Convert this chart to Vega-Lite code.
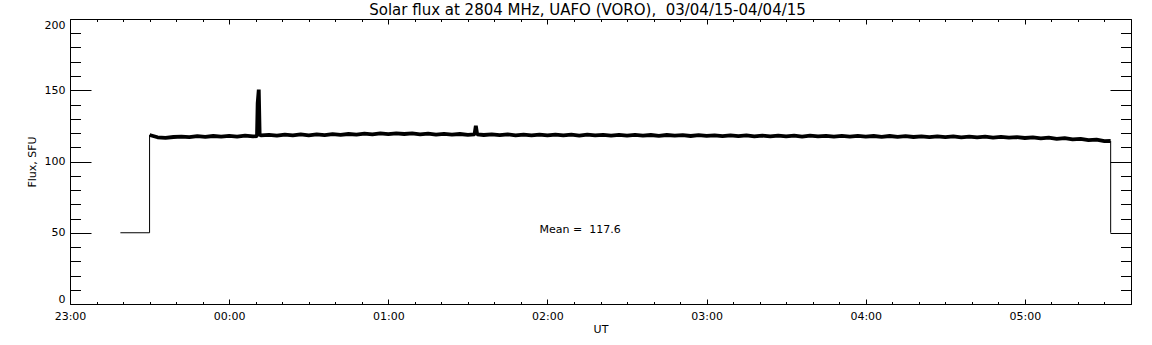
{
  "$schema": "https://vega.github.io/schema/vega-lite/v6.json",
  "width": 1061,
  "height": 285,
  "autosize": "none",
  "padding": {"left": 70, "top": 19, "right": 21, "bottom": 41},
  "background": "white",
  "config": {
    "view": {"stroke": null},
    "font": "DejaVu Sans",
    "axis": {
      "domainColor": "black",
      "domainWidth": 1,
      "gridColor": "black",
      "gridOpacity": 1,
      "gridWidth": 1,
      "labelColor": "black",
      "titleColor": "black",
      "labelFont": "DejaVu Sans",
      "titleFont": "DejaVu Sans",
      "labelFontSize": 11,
      "titleFontSize": 11,
      "titleFontWeight": "normal",
      "labelOverlap": false
    }
  },
  "title": {
    "text": "Solar flux at 2804 MHz, UAFO (VORO),\u00a0 03/04/15-04/04/15",
    "font": "DejaVu Sans",
    "fontSize": 15,
    "fontWeight": "normal",
    "color": "black",
    "offset": 1,
    "dx": -13
  },
  "datasets": {
    "flux": [
      {"t": "2015-04-03T23:30:00Z", "f": 118.6},
      {"t": "2015-04-03T23:33:00Z", "f": 117.0},
      {"t": "2015-04-03T23:36:00Z", "f": 116.6},
      {"t": "2015-04-03T23:39:00Z", "f": 117.2},
      {"t": "2015-04-03T23:42:00Z", "f": 117.5},
      {"t": "2015-04-03T23:45:00Z", "f": 117.1},
      {"t": "2015-04-03T23:48:00Z", "f": 117.8},
      {"t": "2015-04-03T23:51:00Z", "f": 117.3},
      {"t": "2015-04-03T23:54:00Z", "f": 117.9},
      {"t": "2015-04-03T23:57:00Z", "f": 117.4},
      {"t": "2015-04-04T00:00:00Z", "f": 118.0},
      {"t": "2015-04-04T00:03:00Z", "f": 117.5},
      {"t": "2015-04-04T00:06:00Z", "f": 118.1},
      {"t": "2015-04-04T00:09:00Z", "f": 117.6},
      {"t": "2015-04-04T00:10:30Z", "f": 117.9},
      {"t": "2015-04-04T00:10:45Z", "f": 141.0},
      {"t": "2015-04-04T00:11:10Z", "f": 150.5},
      {"t": "2015-04-04T00:11:30Z", "f": 119.0},
      {"t": "2015-04-04T00:12:00Z", "f": 118.3},
      {"t": "2015-04-04T00:15:00Z", "f": 118.7},
      {"t": "2015-04-04T00:18:00Z", "f": 118.1},
      {"t": "2015-04-04T00:21:00Z", "f": 118.8},
      {"t": "2015-04-04T00:24:00Z", "f": 118.3},
      {"t": "2015-04-04T00:27:00Z", "f": 119.0},
      {"t": "2015-04-04T00:30:00Z", "f": 118.4},
      {"t": "2015-04-04T00:33:00Z", "f": 119.0},
      {"t": "2015-04-04T00:36:00Z", "f": 118.5},
      {"t": "2015-04-04T00:39:00Z", "f": 119.2},
      {"t": "2015-04-04T00:42:00Z", "f": 118.7},
      {"t": "2015-04-04T00:45:00Z", "f": 119.3},
      {"t": "2015-04-04T00:48:00Z", "f": 118.8},
      {"t": "2015-04-04T00:51:00Z", "f": 119.5},
      {"t": "2015-04-04T00:54:00Z", "f": 119.0},
      {"t": "2015-04-04T00:57:00Z", "f": 119.7},
      {"t": "2015-04-04T01:00:00Z", "f": 119.2},
      {"t": "2015-04-04T01:03:00Z", "f": 119.8},
      {"t": "2015-04-04T01:06:00Z", "f": 119.3},
      {"t": "2015-04-04T01:09:00Z", "f": 119.7},
      {"t": "2015-04-04T01:12:00Z", "f": 119.1},
      {"t": "2015-04-04T01:15:00Z", "f": 119.6},
      {"t": "2015-04-04T01:18:00Z", "f": 118.9},
      {"t": "2015-04-04T01:21:00Z", "f": 119.4},
      {"t": "2015-04-04T01:24:00Z", "f": 118.8},
      {"t": "2015-04-04T01:27:00Z", "f": 119.3},
      {"t": "2015-04-04T01:30:00Z", "f": 118.7},
      {"t": "2015-04-04T01:32:30Z", "f": 119.0},
      {"t": "2015-04-04T01:33:00Z", "f": 125.0},
      {"t": "2015-04-04T01:33:30Z", "f": 119.1},
      {"t": "2015-04-04T01:36:00Z", "f": 118.6},
      {"t": "2015-04-04T01:39:00Z", "f": 119.1},
      {"t": "2015-04-04T01:42:00Z", "f": 118.5},
      {"t": "2015-04-04T01:45:00Z", "f": 119.0},
      {"t": "2015-04-04T01:48:00Z", "f": 118.4},
      {"t": "2015-04-04T01:51:00Z", "f": 118.9},
      {"t": "2015-04-04T01:54:00Z", "f": 118.4},
      {"t": "2015-04-04T01:57:00Z", "f": 118.9},
      {"t": "2015-04-04T02:00:00Z", "f": 118.3},
      {"t": "2015-04-04T02:03:00Z", "f": 118.9},
      {"t": "2015-04-04T02:06:00Z", "f": 118.4},
      {"t": "2015-04-04T02:09:00Z", "f": 118.8},
      {"t": "2015-04-04T02:12:00Z", "f": 118.2},
      {"t": "2015-04-04T02:15:00Z", "f": 118.8},
      {"t": "2015-04-04T02:18:00Z", "f": 118.3},
      {"t": "2015-04-04T02:21:00Z", "f": 118.7},
      {"t": "2015-04-04T02:24:00Z", "f": 118.1},
      {"t": "2015-04-04T02:27:00Z", "f": 118.7},
      {"t": "2015-04-04T02:30:00Z", "f": 118.2},
      {"t": "2015-04-04T02:33:00Z", "f": 118.7},
      {"t": "2015-04-04T02:36:00Z", "f": 118.1},
      {"t": "2015-04-04T02:39:00Z", "f": 118.6},
      {"t": "2015-04-04T02:42:00Z", "f": 118.0},
      {"t": "2015-04-04T02:45:00Z", "f": 118.6},
      {"t": "2015-04-04T02:48:00Z", "f": 118.1},
      {"t": "2015-04-04T02:51:00Z", "f": 118.5},
      {"t": "2015-04-04T02:54:00Z", "f": 117.9},
      {"t": "2015-04-04T02:57:00Z", "f": 118.5},
      {"t": "2015-04-04T03:00:00Z", "f": 118.0},
      {"t": "2015-04-04T03:03:00Z", "f": 118.4},
      {"t": "2015-04-04T03:06:00Z", "f": 117.8},
      {"t": "2015-04-04T03:09:00Z", "f": 118.4},
      {"t": "2015-04-04T03:12:00Z", "f": 117.8},
      {"t": "2015-04-04T03:15:00Z", "f": 118.3},
      {"t": "2015-04-04T03:18:00Z", "f": 117.7},
      {"t": "2015-04-04T03:21:00Z", "f": 118.2},
      {"t": "2015-04-04T03:24:00Z", "f": 117.6},
      {"t": "2015-04-04T03:27:00Z", "f": 118.2},
      {"t": "2015-04-04T03:30:00Z", "f": 117.6},
      {"t": "2015-04-04T03:33:00Z", "f": 118.1},
      {"t": "2015-04-04T03:36:00Z", "f": 117.5},
      {"t": "2015-04-04T03:39:00Z", "f": 118.1},
      {"t": "2015-04-04T03:42:00Z", "f": 117.6},
      {"t": "2015-04-04T03:45:00Z", "f": 118.0},
      {"t": "2015-04-04T03:48:00Z", "f": 117.4},
      {"t": "2015-04-04T03:51:00Z", "f": 118.0},
      {"t": "2015-04-04T03:54:00Z", "f": 117.5},
      {"t": "2015-04-04T03:57:00Z", "f": 118.0},
      {"t": "2015-04-04T04:00:00Z", "f": 117.4},
      {"t": "2015-04-04T04:03:00Z", "f": 117.9},
      {"t": "2015-04-04T04:06:00Z", "f": 117.3},
      {"t": "2015-04-04T04:09:00Z", "f": 117.9},
      {"t": "2015-04-04T04:12:00Z", "f": 117.3},
      {"t": "2015-04-04T04:15:00Z", "f": 117.8},
      {"t": "2015-04-04T04:18:00Z", "f": 117.2},
      {"t": "2015-04-04T04:21:00Z", "f": 117.7},
      {"t": "2015-04-04T04:24:00Z", "f": 117.1},
      {"t": "2015-04-04T04:27:00Z", "f": 117.7},
      {"t": "2015-04-04T04:30:00Z", "f": 117.1},
      {"t": "2015-04-04T04:33:00Z", "f": 117.6},
      {"t": "2015-04-04T04:36:00Z", "f": 117.0},
      {"t": "2015-04-04T04:39:00Z", "f": 117.5},
      {"t": "2015-04-04T04:42:00Z", "f": 116.9},
      {"t": "2015-04-04T04:45:00Z", "f": 117.4},
      {"t": "2015-04-04T04:48:00Z", "f": 116.8},
      {"t": "2015-04-04T04:51:00Z", "f": 117.3},
      {"t": "2015-04-04T04:54:00Z", "f": 116.7},
      {"t": "2015-04-04T04:57:00Z", "f": 117.1},
      {"t": "2015-04-04T05:00:00Z", "f": 116.5},
      {"t": "2015-04-04T05:03:00Z", "f": 116.9},
      {"t": "2015-04-04T05:06:00Z", "f": 116.2},
      {"t": "2015-04-04T05:09:00Z", "f": 116.7},
      {"t": "2015-04-04T05:12:00Z", "f": 115.9},
      {"t": "2015-04-04T05:15:00Z", "f": 116.4},
      {"t": "2015-04-04T05:18:00Z", "f": 115.5},
      {"t": "2015-04-04T05:21:00Z", "f": 115.9},
      {"t": "2015-04-04T05:24:00Z", "f": 115.0},
      {"t": "2015-04-04T05:27:00Z", "f": 115.3},
      {"t": "2015-04-04T05:30:00Z", "f": 114.3},
      {"t": "2015-04-04T05:32:20Z", "f": 114.4}
    ],
    "edges": [
      {"part": "start", "t": "2015-04-03T23:19:00Z", "f": 50},
      {"part": "start", "t": "2015-04-03T23:30:00Z", "f": 50},
      {"part": "start", "t": "2015-04-03T23:30:00Z", "f": 118.6},
      {"part": "end", "t": "2015-04-04T05:32:20Z", "f": 114.4},
      {"part": "end", "t": "2015-04-04T05:32:20Z", "f": 50}
    ],
    "note": [
      {"t": "2015-04-04T01:57:00Z", "f": 52, "label": "Mean =\u00a0 117.6"}
    ]
  },
  "layer": [
    {
      "data": {"name": "flux"},
      "mark": {"type": "line", "color": "black", "strokeWidth": 3.8, "strokeJoin": "bevel"},
      "encoding": {
        "x": {
          "field": "t", "type": "temporal",
          "scale": {"type": "utc", "nice": false, "domain": [
            {"year": 2015, "month": 4, "date": 3, "hours": 23, "minutes": 0, "utc": true},
            {"year": 2015, "month": 4, "date": 4, "hours": 5, "minutes": 40, "utc": true}
          ]},
          "axis": {
            "orient": "bottom",
            "title": "UT",
            "format": "%H:%M",
            "values": [1428102000000, 1428102600000, 1428103200000, 1428103800000, 1428104400000, 1428105000000,
                       1428105600000, 1428106200000, 1428106800000, 1428107400000, 1428108000000, 1428108600000,
                       1428109200000, 1428109800000, 1428110400000, 1428111000000, 1428111600000, 1428112200000,
                       1428112800000, 1428113400000, 1428114000000, 1428114600000, 1428115200000, 1428115800000,
                       1428116400000, 1428117000000, 1428117600000, 1428118200000, 1428118800000, 1428119400000,
                       1428120000000, 1428120600000, 1428121200000, 1428121800000, 1428122400000, 1428123000000,
                       1428123600000, 1428124200000, 1428124800000, 1428125400000, 1428126000000],
            "labelExpr": "datum.value % 3600000 === 0 ? datum.label : ''",
            "ticks": false,
            "grid": true,
            "gridDash": {"condition": {"test": "datum.value % 3600000 === 0", "value": [5, 275, 5, 100]}, "value": [2.5, 280, 2.5, 100]},
            "labelPadding": 6,
            "labelFlush": false,
            "titlePadding": 2
          }
        },
        "y": {
          "field": "f", "type": "quantitative",
          "scale": {"domain": [0, 200], "nice": false, "zero": true},
          "axis": {
            "orient": "left",
            "title": "Flux, SFU",
            "values": [0, 10, 20, 30, 40, 50, 60, 70, 80, 90, 100, 110, 120, 130, 140, 150, 160, 170, 180, 190, 200],
            "labelExpr": "datum.value % 50 === 0 ? datum.label : ''",
            "ticks": false,
            "grid": true,
            "gridDash": {"condition": {"test": "datum.value % 50 === 0", "value": [21, 1019, 21, 100]}, "value": [10.5, 1040, 10.5, 100]},
            "labelPadding": 5,
            "labelFlush": true,
            "titlePadding": 7
          }
        }
      }
    },
    {
      "data": {"name": "edges"},
      "mark": {"type": "line", "color": "black", "strokeWidth": 1},
      "encoding": {
        "x": {
          "field": "t", "type": "temporal",
          "axis": {"orient": "top", "title": null, "labels": false, "ticks": false, "grid": false}
        },
        "y": {
          "field": "f", "type": "quantitative",
          "axis": {"orient": "right", "title": null, "labels": false, "ticks": false, "grid": false}
        },
        "detail": {"field": "part", "type": "nominal"}
      }
    },
    {
      "data": {"name": "note"},
      "mark": {"type": "text", "align": "left", "baseline": "middle", "fontSize": 11, "font": "DejaVu Sans", "color": "black"},
      "encoding": {
        "x": {"field": "t", "type": "temporal", "axis": null},
        "y": {"field": "f", "type": "quantitative", "axis": null},
        "text": {"field": "label"}
      }
    }
  ],
  "resolve": {"axis": {"x": "independent", "y": "independent"}}
}
